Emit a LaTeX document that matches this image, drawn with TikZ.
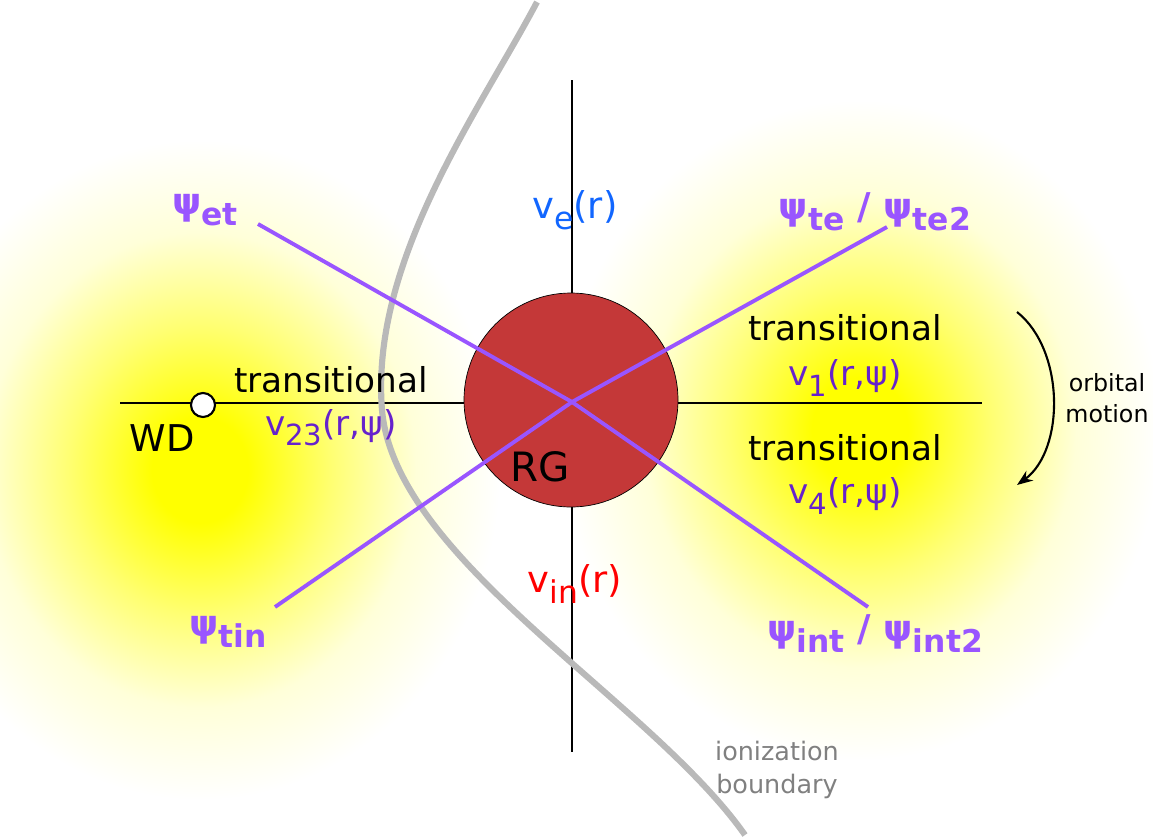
\documentclass[tikz,border=0pt]{standalone}
\usepackage{fontspec}
\setmainfont{DejaVu Sans}
\usetikzlibrary{arrows.meta}
\definecolor{purp}{HTML}{9955FF}
\definecolor{dpurp}{HTML}{6622CC}
\definecolor{rg}{HTML}{C43838}
\definecolor{vblue}{HTML}{1166FF}
\pgfdeclareradialshading{glow}{\pgfpoint{0bp}{0bp}}{color(0bp)=(yellow);color(4bp)=(yellow);color(11bp)=(yellow!55);color(18bp)=(yellow!15);color(25bp)=(white);color(50bp)=(white)}
\newcommand{\sbs}[1]{\raisebox{-0.3em}{\scalebox{0.85}{#1}}}
\begin{document}
\begin{tikzpicture}[x=0.02cm,y=-0.02cm,
  lab/.style={font=\fontsize{19.5}{22}\selectfont},
  psil/.style={font=\bfseries\fontsize{21}{24}\selectfont,text=purp},
  vl/.style={font=\fontsize{19.5}{22}\selectfont,text=dpurp}]
\useasboundingbox (0,0) rectangle (1153,839);
\shade[shading=glow] (200,470) ellipse (300 and 330);
\shade[shading=glow] (860,430) ellipse (300 and 330);
\draw[line width=0.6pt] (572,80) -- (572,752);
\draw[line width=0.6pt] (120,403) -- (982,403);
\draw[gray!55,line width=3.5pt] (537,2) .. controls (480,110) and (370,260) .. (382,410) .. controls (395,560) and (650,700) .. (745,835);
\node[circle,draw=black,fill=rg,minimum size=214*0.02cm,inner sep=0] (rgc) at (571,400) {};
\coordinate (c) at (572,402);
\draw[purp,line width=2.2pt] (258,224) -- (c) -- (868,607);
\draw[purp,line width=2.2pt] (275,607) -- (c) -- (887,227);
\node[circle,draw=black,fill=white,line width=1.2pt,minimum size=24*0.02cm,inner sep=0] (wd) at (203,405) {};
\node[font=\fontsize{21}{24}\selectfont] (wdl) at (162,438) {WD};
\node[font=\fontsize{23}{26}\selectfont] (rgl) at (540,467) {RG};
\node[lab] (t1) at (331,380) {transitional};
\node[vl] (v23) at (331,428) {v\sbs{23}(r,ψ)};
\node[lab] (t2) at (845,328) {transitional};
\node[vl] (v1) at (845,378) {v\sbs{1}(r,ψ)};
\node[lab] (t3) at (845,448) {transitional};
\node[vl] (v4) at (845,496) {v\sbs{4}(r,ψ)};
\node[font=\fontsize{21}{24}\selectfont,text=vblue] (ve) at (575,210) {v\sbs{e}(r)};
\node[font=\fontsize{21}{24}\selectfont,text=red] (vin) at (575,584) {v\sbs{in}(r)};
\node[psil] (pet) at (205,210) {ψ\sbs{et}};
\node[psil] (pte) at (875,212) {ψ\sbs{te} / ψ\sbs{te2}};
\node[psil] (ptin) at (228,632) {ψ\sbs{tin}};
\node[psil] (pint) at (875,634) {ψ\sbs{int} / ψ\sbs{int2}};
\node[font=\fontsize{13.5}{18}\selectfont,align=center] (orb) at (1107,398) {orbital\\motion};
\coordinate (oa) at (1017,312);
\coordinate (ob) at (1017,485);
\draw[line width=1.2pt,-{Stealth[length=9pt]}] (oa) .. controls (1065,350) and (1065,450) .. (ob);
\node[font=\fontsize{14.5}{19}\selectfont,text=gray,align=center] (ion) at (777,770) {ionization\\boundary};
\end{tikzpicture}
\end{document}
